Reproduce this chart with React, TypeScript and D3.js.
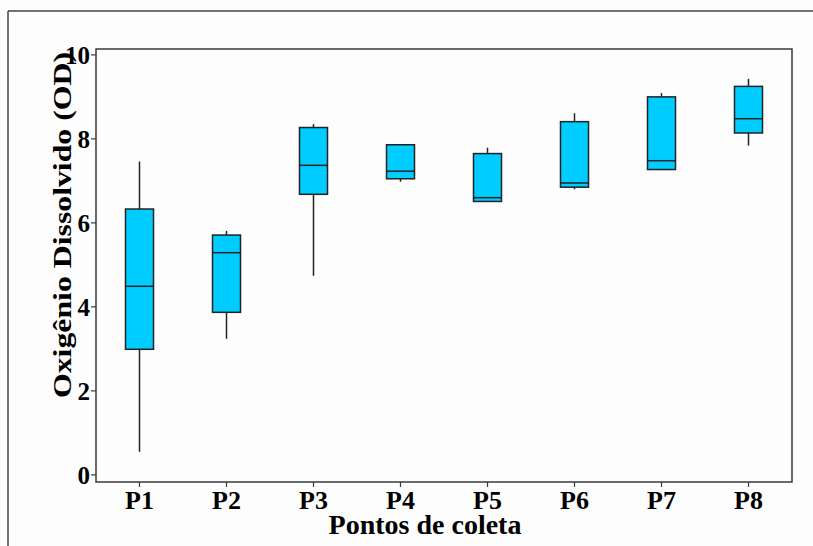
import React from "react";
import * as d3 from "d3";

const categories = ["P1", "P2", "P3", "P4", "P5", "P6", "P7", "P8"];
const whiskerLow = [0.55, 3.24, 4.74, 6.98, 6.51, 6.8, 7.27, 7.84];
const q1 = [2.99, 3.87, 6.68, 7.05, 6.51, 6.85, 7.27, 8.14];
const medians = [4.49, 5.29, 7.37, 7.23, 6.6, 6.95, 7.48, 8.48];
const q3 = [6.33, 5.71, 8.27, 7.86, 7.65, 8.41, 9.0, 9.25];
const whiskerHigh = [7.46, 5.81, 8.35, 7.86, 7.79, 8.61, 9.09, 9.43];
const yTicks = [0, 2, 4, 6, 8, 10];

const W = 813;
const H = 546;
const left = 96, right = 792, top = 49, bottom = 482;
const font = "'Liberation Serif', 'Times New Roman', serif";

export default function App() {
  const x = d3.scalePoint<string>().domain(categories).range([left, right]).padding(0.5);
  const y = d3.scaleLinear().domain([-0.17, 10.14]).range([bottom, top]);
  const bw = 28;
  const axisColor = "#3a3a3a";
  return (
    <svg width={W} height={H} style={{ position: "absolute", left: 0, top: 0, background: "#fdfdfd" }}>
      <rect x={0} y={0} width={W} height={H} fill="#fdfdfd" />
      {/* outer frame */}
      <line x1={8} y1={11} x2={W} y2={11} stroke="#444" strokeWidth={1.5} />
      <line x1={8} y1={11} x2={8} y2={H} stroke="#444" strokeWidth={1.5} />
      {/* plot frame */}
      <rect x={left} y={top} width={right - left} height={bottom - top} fill="none" stroke={axisColor} strokeWidth={1.5} />
      {/* y ticks */}
      {yTicks.map((t) => (
        <g key={t}>
          <line x1={left - 5} x2={left} y1={y(t)} y2={y(t)} stroke={axisColor} strokeWidth={1.2} />
          <text x={left - 6} y={y(t)} dy="0.35em" textAnchor="end" fontFamily={font} fontWeight="bold" fontSize={25}>
            {t}
          </text>
        </g>
      ))}
      {/* x ticks */}
      {categories.map((c) => (
        <g key={c}>
          <line x1={x(c)!} x2={x(c)!} y1={bottom} y2={bottom + 5} stroke={axisColor} strokeWidth={1.2} />
          <text x={x(c)!} y={509} textAnchor="middle" fontFamily={font} fontWeight="bold" fontSize={26}>
            {c}
          </text>
        </g>
      ))}
      {/* boxes */}
      {categories.map((c, i) => {
        const cx = x(c)!;
        return (
          <g key={"b" + c}>
            {whiskerHigh[i] > q3[i] && (
              <line x1={cx} x2={cx} y1={y(q3[i])} y2={y(whiskerHigh[i])} stroke="#222" strokeWidth={1.5} />
            )}
            {whiskerLow[i] < q1[i] && (
              <line x1={cx} x2={cx} y1={y(q1[i])} y2={y(whiskerLow[i])} stroke="#222" strokeWidth={1.5} />
            )}
            <rect x={cx - bw / 2} y={y(q3[i])} width={bw} height={y(q1[i]) - y(q3[i])} fill="#00CCFF" stroke="#222" strokeWidth={1.5} />
            <line x1={cx - bw / 2} x2={cx + bw / 2} y1={y(medians[i])} y2={y(medians[i])} stroke="#222" strokeWidth={1.5} />
          </g>
        );
      })}
      {/* axis titles */}
      <text x={425} y={534} textAnchor="middle" fontFamily={font} fontWeight="bold" fontSize={28}>
        Pontos de coleta
      </text>
      <text
        transform={`translate(71,225) rotate(-90)`}
        textAnchor="middle"
        fontFamily={font}
        fontWeight="bold"
        fontSize={26}
        textLength={346}
        lengthAdjust="spacingAndGlyphs"
      >
        Oxigênio Dissolvido (OD)
      </text>
    </svg>
  );
}
